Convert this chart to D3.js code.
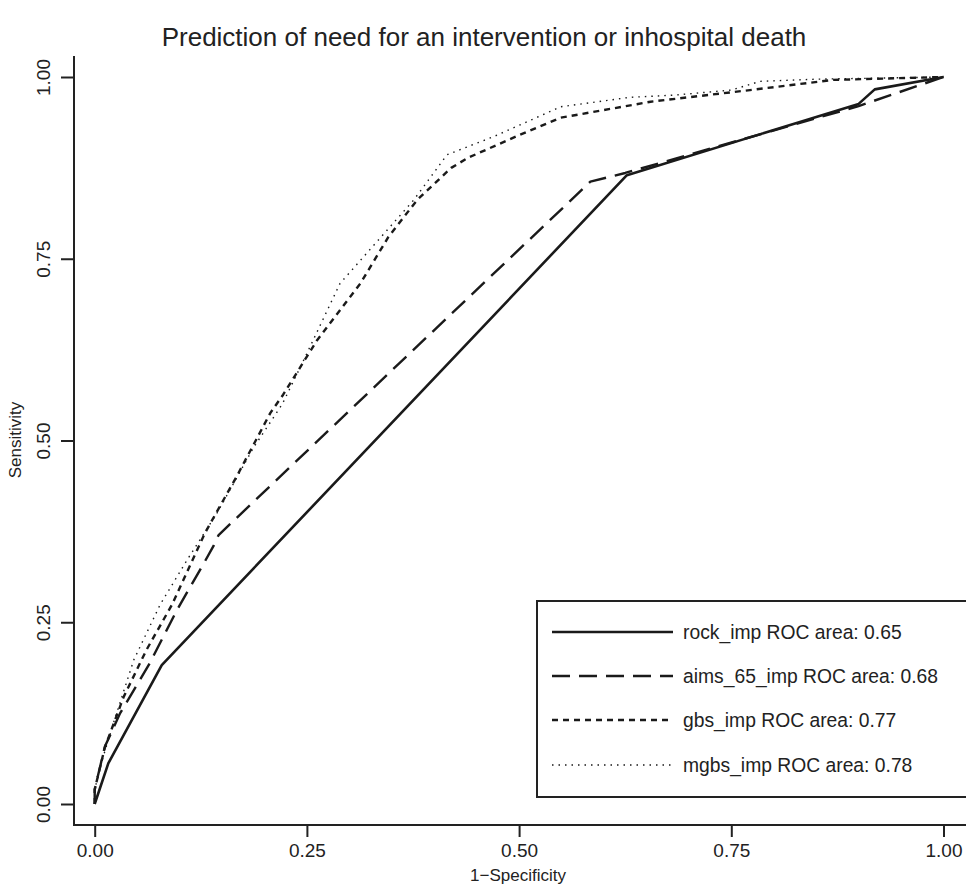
<!DOCTYPE html>
<html>
<head>
<meta charset="utf-8">
<script src="https://cdn.jsdelivr.net/npm/d3@7"></script>
<style>
  body { margin: 0; background: #fff; }
  text { font-family: "Liberation Sans", Arial, sans-serif; fill: #222; }
</style>
</head>
<body>
<div id="chart"></div>
<script>
// ROC curves, values (x = 1-specificity, y = sensitivity)
var rockX = [0, 0.016, 0.079, 0.627, 0.900, 0.919, 1];
var rockY = [0, 0.056, 0.191, 0.865, 0.963, 0.983, 1];

var aimsX = [0, 0, 0.012, 0.030, 0.065, 0.097, 0.128, 0.140, 0.146, 0.584, 0.625, 0.900, 1];
var aimsY = [0, 0.02, 0.079, 0.125, 0.194, 0.267, 0.330, 0.355, 0.370, 0.856, 0.868, 0.960, 1];

var gbsX = [0, 0, 0.012, 0.034, 0.061, 0.091, 0.130, 0.167, 0.207, 0.222, 0.262, 0.313, 0.346, 0.380, 0.420, 0.440, 0.500, 0.549, 0.655, 0.772, 0.870, 1];
var gbsY = [0, 0.02, 0.078, 0.147, 0.212, 0.274, 0.373, 0.450, 0.538, 0.563, 0.638, 0.716, 0.780, 0.831, 0.875, 0.889, 0.920, 0.944, 0.966, 0.982, 0.996, 1];

var mgbsX = [0, 0, 0.010, 0.022, 0.046, 0.077, 0.109, 0.144, 0.187, 0.221, 0.246, 0.289, 0.348, 0.376, 0.415, 0.470, 0.549, 0.630, 0.682, 0.750, 0.784, 0.850, 1];
var mgbsY = [0, 0.02, 0.065, 0.111, 0.198, 0.274, 0.336, 0.400, 0.490, 0.550, 0.610, 0.716, 0.794, 0.831, 0.893, 0.918, 0.959, 0.972, 0.975, 0.982, 0.994, 0.997, 1];

var seriesNames = ["rock_imp ROC area: 0.65", "aims_65_imp ROC area: 0.68",
                   "gbs_imp ROC area: 0.77", "mgbs_imp ROC area: 0.78"];
var tickVals = [0, 0.25, 0.50, 0.75, 1.00];

var W = 966, H = 884;

var x = d3.scaleLinear().domain([0, 1]).range([94.7, 943.5]);
var y = d3.scaleLinear().domain([0, 1]).range([804, 77]);

var svg = d3.select("#chart").append("svg")
    .attr("width", W)
    .attr("height", H);

// title
svg.append("text")
    .attr("x", 484)
    .attr("y", 46)
    .attr("text-anchor", "middle")
    .style("font-size", "26px")
    .text("Prediction of need for an intervention or inhospital death");

// axes
var xAxis = svg.append("g")
    .attr("transform", "translate(0,825)")
    .call(d3.axisBottom(x).tickValues(tickVals).tickFormat(d3.format(".2f")).tickSize(12).tickPadding(7));
xAxis.select(".domain").remove();
xAxis.selectAll("line").attr("stroke", "#222").attr("stroke-width", 2);
xAxis.selectAll("text").style("font-size", "19px").attr("fill", "#222");

svg.append("line")
    .attr("x1", 74).attr("x2", W)
    .attr("y1", 825).attr("y2", 825)
    .attr("stroke", "#222").attr("stroke-width", 2);

var yAxis = svg.append("g")
    .attr("transform", "translate(74,0)")
    .call(d3.axisLeft(y).tickValues(tickVals).tickFormat(d3.format(".2f")).tickSize(13));
yAxis.select(".domain").remove();
yAxis.selectAll("line").attr("stroke", "#222").attr("stroke-width", 2);
yAxis.selectAll("text")
    .style("font-size", "19px")
    .attr("fill", "#222")
    .attr("x", null).attr("dy", null)
    .attr("text-anchor", "middle")
    .attr("transform", "translate(-24,0) rotate(-90)");

svg.append("line")
    .attr("x1", 74).attr("x2", 74)
    .attr("y1", 56).attr("y2", 826)
    .attr("stroke", "#222").attr("stroke-width", 2);

// axis labels
svg.append("text")
    .attr("x", 518)
    .attr("y", 881)
    .attr("text-anchor", "middle")
    .style("font-size", "17px")
    .text("1\u2212Specificity");

svg.append("text")
    .attr("transform", "translate(21,440) rotate(-90)")
    .attr("text-anchor", "middle")
    .style("font-size", "17px")
    .text("Sensitivity");

// curves
var styles = [
    { w: 2.6, dash: null },
    { w: 2.4, dash: "18,9" },
    { w: 2.4, dash: "6,5" },
    { w: 1.4, dash: "1.5,5" }
];
var curveXs = [rockX, aimsX, gbsX, mgbsX];
var curveYs = [rockY, aimsY, gbsY, mgbsY];

var line = d3.line()
    .x(function(d) { return x(d[0]); })
    .y(function(d) { return y(d[1]); });

curveXs.forEach(function(xs, i) {
    var pts = xs.map(function(v, j) { return [v, curveYs[i][j]]; });
    svg.append("path")
        .datum(pts)
        .attr("d", line)
        .attr("fill", "none")
        .attr("stroke", "#1a1a1a")
        .attr("stroke-width", styles[i].w)
        .attr("stroke-dasharray", styles[i].dash)
        .attr("stroke-linejoin", "round");
});

// legend
var lg = svg.append("g");
lg.append("rect")
    .attr("x", 537).attr("y", 601)
    .attr("width", 450).attr("height", 196)
    .attr("fill", "#fff")
    .attr("stroke", "#222").attr("stroke-width", 2);

var rowY = [632, 676, 720, 765];
seriesNames.forEach(function(name, i) {
    lg.append("line")
        .attr("x1", 552).attr("x2", 673)
        .attr("y1", rowY[i]).attr("y2", rowY[i])
        .attr("stroke", "#1a1a1a")
        .attr("stroke-width", styles[i].w)
        .attr("stroke-dasharray", styles[i].dash);
    lg.append("text")
        .attr("x", 683)
        .attr("y", rowY[i])
        .attr("dy", "0.35em")
        .style("font-size", "19.3px")
        .text(name);
});
</script>
</body>
</html>
